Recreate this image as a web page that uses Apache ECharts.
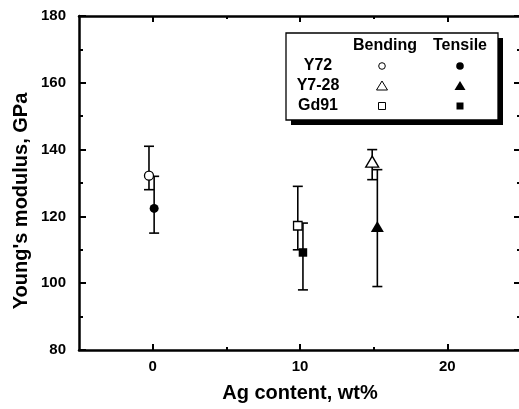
<!DOCTYPE html>
<html><head><meta charset="utf-8">
<script src="https://cdn.jsdelivr.net/npm/echarts@6/dist/echarts.min.js"></script>
<style>html,body{margin:0;padding:0;background:#fff}#c{width:519px;height:409px}</style>
</head><body><div id="c"></div>
<script>
// ---- data ----
const samples = ['Y72', 'Y7-28', 'Gd91'];
const sampleSymbols = ['circle', 'triangle', 'rect'];
const bendX = [-0.25, 14.9, 9.85];
const bendY = [132.2, 136.4, 117.2];
const bendLow = [128, 131, 110];
const bendHigh = [141, 140, 129];
const tensX = [0.1, 15.25, 10.2];
const tensY = [122.4, 117.0, 109.2];
const tensLow = [115, 99, 98];
const tensHigh = [132, 134, 118];
const xMajorTicks = [0, 10, 20];
const xMinorTicks = [5, 15];
const yMajorTicks = [80, 100, 120, 140, 160, 180];
const yMinorTicks = [90, 110, 130, 150, 170];
const xTitle = 'Ag content, wt%';
const yTitle = "Young's modulus, GPa";
const legendHeaders = ['Bending', 'Tensile'];

// ---- chart ----
const FONT = '"Liberation Sans", Arial, Helvetica, sans-serif';
const chart = echarts.init(document.getElementById('c'), null, {renderer: 'canvas'});
const symSize = {circle: 9, triangle: [13, 11], rect: 8.5};

function errRender(params, api) {
  const x = api.value(0), lo = api.value(1), hi = api.value(2);
  const p1 = api.coord([x, hi]), p2 = api.coord([x, lo]);
  const w = 5;
  const st = {stroke: '#000', lineWidth: 1.6};
  return {type: 'group', children: [
    {type: 'line', shape: {x1: p1[0], y1: p1[1], x2: p2[0], y2: p2[1]}, style: st},
    {type: 'line', shape: {x1: p1[0] - w, y1: p1[1], x2: p1[0] + w, y2: p1[1]}, style: st},
    {type: 'line', shape: {x1: p2[0] - w, y1: p2[1], x2: p2[0] + w, y2: p2[1]}, style: st}
  ]};
}

const series = [];
samples.forEach((s, i) => {
  series.push({
    type: 'custom', name: s + ' bending err', renderItem: errRender, z: 1,
    encode: {x: 0, y: [1, 2]}, data: [[bendX[i], bendLow[i], bendHigh[i]]], silent: true
  });
  series.push({
    type: 'custom', name: s + ' tensile err', renderItem: errRender, z: 1,
    encode: {x: 0, y: [1, 2]}, data: [[tensX[i], tensLow[i], tensHigh[i]]], silent: true
  });
});
samples.forEach((s, i) => {
  const sym = sampleSymbols[i];
  series.push({
    type: 'scatter', name: s + ' Bending', symbol: sym, symbolSize: symSize[sym], z: 5,
    itemStyle: {color: '#fff', borderColor: '#000', borderWidth: 1.3, opacity: 1},
    data: [[bendX[i], bendY[i]]]
  });
  series.push({
    type: 'scatter', name: s + ' Tensile', symbol: sym, symbolSize: symSize[sym], z: 5,
    itemStyle: {color: '#000', borderColor: '#000', borderWidth: 0, opacity: 1},
    data: [[tensX[i], tensY[i]]]
  });
});

const lineSt = {color: '#000', width: 2.5};
function xAx(pos, vals, len, showLine, labels) {
  return {
    type: 'value', position: pos, min: -5, max: 25,
    axisLine: {show: showLine, onZero: false, lineStyle: lineSt},
    axisTick: {show: true, inside: true, length: len, customValues: vals, lineStyle: {color: '#000', width: 2}},
    axisLabel: labels ? {show: true, customValues: vals, margin: 9, color: '#000', fontSize: 15, fontWeight: 'bold', fontFamily: FONT} : {show: false},
    splitLine: {show: false}
  };
}
function yAx(pos, vals, len, showLine, labels) {
  return {
    type: 'value', position: pos, min: 80, max: 180,
    axisLine: {show: showLine, onZero: false, lineStyle: lineSt},
    axisTick: {show: true, inside: true, length: len, customValues: vals, lineStyle: {color: '#000', width: 2}},
    axisLabel: labels ? {show: true, customValues: vals, margin: 13, color: '#000', fontSize: 15, fontWeight: 'bold', fontFamily: FONT} : {show: false},
    splitLine: {show: false}
  };
}
const xb = xAx('bottom', xMajorTicks, 6, true, true);
xb.name = xTitle; xb.nameLocation = 'middle'; xb.nameGap = 33;
xb.nameTextStyle = {color: '#000', fontSize: 20, fontWeight: 'bold', fontFamily: FONT};

// legend box positions (decorative key)
const LX = 286, LY = 33, LW = 212, LH = 87;
const colB = 382, colT = 460, colLab = 318;
const rowsY = [66, 86, 106], headY = 46;
const LF = 'bold 16px ' + FONT;
const legendEls = [
  {type: 'rect', shape: {x: LX + 5, y: LY + 5, width: LW, height: LH}, style: {fill: '#000'}, z: 10},
  {type: 'rect', shape: {x: LX, y: LY, width: LW, height: LH}, style: {fill: '#fff', stroke: '#000', lineWidth: 1.3}, z: 11},
  {type: 'text', x: 385, y: headY, style: {text: legendHeaders[0], font: LF, fill: '#000', align: 'center', verticalAlign: 'middle'}, z: 12},
  {type: 'text', x: 460, y: headY, style: {text: legendHeaders[1], font: LF, fill: '#000', align: 'center', verticalAlign: 'middle'}, z: 12}
];
samples.forEach((s, i) => {
  const y = rowsY[i];
  legendEls.push({type: 'text', x: colLab, y: y, style: {text: s, font: LF, fill: '#000', align: 'center', verticalAlign: 'middle'}, z: 12});
  [[colB, '#fff'], [colT, '#000']].forEach(([cx, fill]) => {
    const sym = sampleSymbols[i];
    let el;
    if (sym === 'circle') el = {type: 'circle', shape: {cx: cx, cy: y, r: fill === '#fff' ? 3.3 : 3.8}};
    else if (sym === 'triangle') el = {type: 'polygon', shape: {points: [[cx, y - 5], [cx + 5.5, y + 4], [cx - 5.5, y + 4]]}};
    else el = {type: 'rect', shape: {x: cx - 3.5, y: y - 3.5, width: 7, height: 7}};
    el.style = {fill: fill, stroke: '#000', lineWidth: fill === '#fff' ? 1 : 0};
    el.z = 12;
    legendEls.push(el);
  });
});
legendEls.push({type: 'text', x: 21, y: 201, rotation: Math.PI / 2,
  style: {text: yTitle, font: 'bold 20px ' + FONT, fill: '#000', align: 'center', verticalAlign: 'middle'}, z: 12});

chart.setOption({
  animation: false,
  backgroundColor: '#fff',
  grid: {left: 79, right: -2, top: 16, bottom: 59, outerBoundsMode: 'none', containLabel: false},
  xAxis: [xb, xAx('bottom', xMinorTicks, 3, false, false), xAx('top', xMajorTicks, 6, true, false), xAx('top', xMinorTicks, 3, false, false)],
  yAxis: [yAx('left', yMajorTicks, 7, true, true), yAx('left', yMinorTicks, 4, false, false), yAx('right', yMajorTicks, 7, true, false), yAx('right', yMinorTicks, 4, false, false)],
  series: series,
  graphic: legendEls
});
</script>
</body></html>
